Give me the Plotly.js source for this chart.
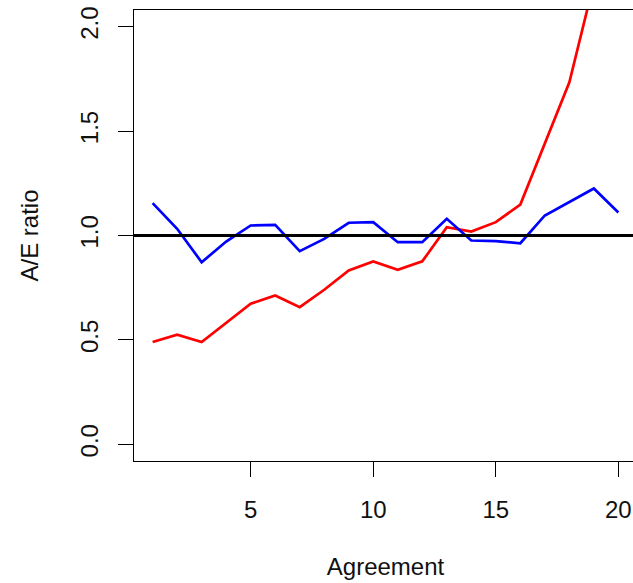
<!DOCTYPE html>
<html>
<head>
<meta charset="utf-8">
<script src="https://cdn.plot.ly/plotly-3.0.1.min.js"></script>
<style>
html, body { margin: 0; padding: 0; overflow: hidden; background: #fff; }
#chart { width: 638px; height: 583px; }
</style>
</head>
<body>
<div id="chart"></div>
<script>
// Data
var agreement = [1, 2, 3, 4, 5, 6, 7, 8, 9, 10, 11, 12, 13, 14, 15, 16, 17, 18, 19, 20];
var blueRatio = [1.155, 1.032, 0.872, 0.971, 1.048, 1.051, 0.925, 0.984, 1.061, 1.064,
                 0.968, 0.968, 1.080, 0.976, 0.973, 0.963, 1.096, 1.159, 1.225, 1.110];
var redRatio  = [0.490, 0.525, 0.490, 0.580, 0.673, 0.713, 0.657, 0.740, 0.833, 0.876,
                 0.836, 0.876, 1.040, 1.019, 1.064, 1.148, 1.439, 1.734, 2.210, 2.900];
var refLevel = 1.0;
var xTicks = [5, 10, 15, 20];
var yTicks = [0, 0.5, 1.0, 1.5, 2.0];
var yTickText = ["0.0", "0.5", "1.0", "1.5", "2.0"];

var FONT = "Liberation Sans, Arial, sans-serif";

var traces = [
  { x: agreement, y: redRatio, type: "scatter", mode: "lines",
    line: { color: "#ff0000", width: 2.7 }, name: "red", showlegend: false },
  { x: agreement, y: blueRatio, type: "scatter", mode: "lines",
    line: { color: "#0000ff", width: 2.7 }, name: "blue", showlegend: false }
];

var layout = {
  width: 638, height: 583,
  margin: { l: 134, r: 1, t: 10, b: 122, pad: 0 },
  paper_bgcolor: "#ffffff", plot_bgcolor: "#ffffff",
  font: { family: FONT, size: 24, color: "#000000" },
  showlegend: false,
  xaxis: {
    range: [0.24, 20.76], autorange: false,
    tickmode: "array", tickvals: xTicks,
    ticks: "outside", ticklen: 15, tickwidth: 1, tickcolor: "#000",
    showline: true, mirror: true, linecolor: "#000", linewidth: 1.3,
    showgrid: false, zeroline: false,
    tickfont: { family: FONT, size: 24, color: "#111111" },
    ticklabelstandoff: 12,
    title: { text: "Agreement", font: { family: FONT, size: 24, color: "#111111" }, standoff: 36 },
    automargin: false
  },
  yaxis: {
    range: [-0.08, 2.08], autorange: false,
    tickmode: "array", tickvals: yTicks, ticktext: yTickText,
    ticks: "outside", ticklen: 15, tickwidth: 1, tickcolor: "#000",
    tickangle: -90,
    showline: true, mirror: true, linecolor: "#000", linewidth: 1.3,
    showgrid: false, zeroline: false,
    tickfont: { family: FONT, size: 24, color: "#111111" },
    ticklabelstandoff: 10,
    title: { text: "A/E ratio", font: { family: FONT, size: 24, color: "#111111" }, standoff: 30 },
    automargin: false
  },
  shapes: [
    { type: "line", xref: "paper", x0: 0, x1: 1, yref: "y", y0: refLevel, y1: refLevel,
      line: { color: "#000000", width: 3 }, layer: "above" }
  ]
};

Plotly.newPlot("chart", traces, layout, { displayModeBar: false, staticPlot: true });
</script>
</body>
</html>
